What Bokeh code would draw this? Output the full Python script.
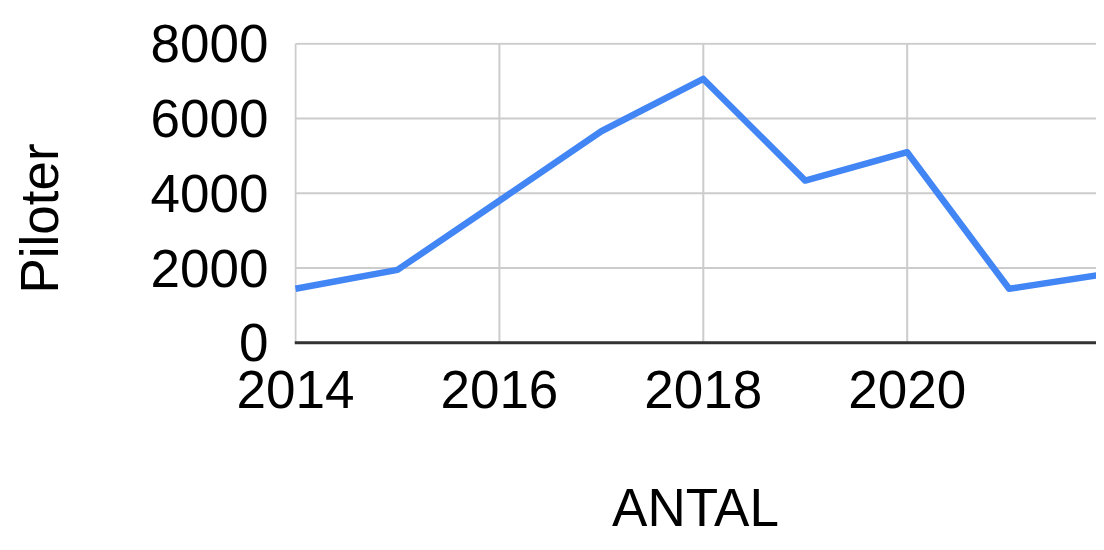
from bokeh.plotting import figure
from bokeh.models import Range1d, FixedTicker, Span
from bokeh.embed import file_html
from bokeh.resources import INLINE

years = [2014, 2015, 2016, 2017, 2018, 2019, 2020, 2021, 2022]
pilots = [1445, 1950, 3800, 5660, 7060, 4340, 5100, 1445, 1860]
x_ticks = [2014, 2016, 2018, 2020]
y_ticks = [0, 2000, 4000, 6000, 8000]
x_title = "ANTAL"
y_title = "Piloter"

FONT = "Liberation Sans"
FS = "53px"

p = figure(width=1096, height=542, output_backend="svg", toolbar_location=None,
           x_range=Range1d(2013.9902, 2021.857), y_range=Range1d(-1383, 8034.8),
           min_border_left=294, min_border_right=0, min_border_top=42, min_border_bottom=148)
p.outline_line_color = None
p.background_fill_color = "white"
p.border_fill_color = "white"
p.xgrid.visible = False
p.ygrid.visible = False

# grid lines drawn from the tick arrays
p.segment(x0=x_ticks, y0=[y_ticks[0]] * len(x_ticks), x1=x_ticks, y1=[y_ticks[-1]] * len(x_ticks),
          line_color="#cccccc", line_width=2, level="underlay")
p.segment(x0=[years[0]] * len(y_ticks), y0=y_ticks, x1=[years[-1]] * len(y_ticks), y1=y_ticks,
          line_color="#cccccc", line_width=2, level="underlay")

p.line(years, pilots, line_color="#4285F4", line_width=6.5, line_join="round")

# dark baseline at zero
p.add_layout(Span(location=y_ticks[0], dimension="width", line_color="#333333", line_width=3))

for ax in (p.xaxis, p.yaxis):
    ax.major_tick_line_color = None
    ax.minor_tick_line_color = None
    ax.axis_line_color = None
    ax.major_label_text_font = FONT
    ax.major_label_text_font_size = FS
    ax.major_label_text_color = "#000000"
    ax.axis_label_text_font = FONT
    ax.axis_label_text_font_size = FS
    ax.axis_label_text_font_style = "normal"
    ax.axis_label_text_color = "#000000"

p.xaxis.ticker = FixedTicker(ticks=x_ticks)
p.yaxis.ticker = FixedTicker(ticks=y_ticks)
p.xaxis.major_label_standoff = -30
p.yaxis.major_label_standoff = 20

p.xaxis.axis_label = x_title
p.xaxis.axis_label_standoff = 67
p.yaxis.axis_label = y_title
p.yaxis.axis_label_standoff = 79

open("out.html", "w").write(file_html(p, INLINE))
